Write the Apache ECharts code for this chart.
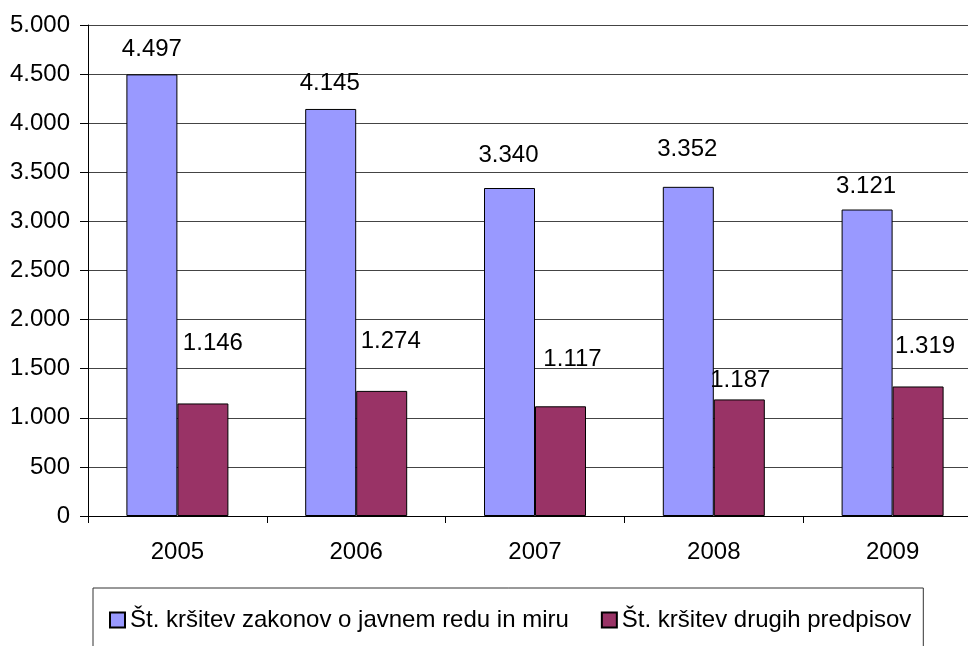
<!DOCTYPE html>
<html>
<head>
<meta charset="utf-8">
<script src="https://cdn.jsdelivr.net/npm/echarts@6/dist/echarts.min.js"></script>
<style>
  html, body { margin: 0; padding: 0; background: #fff; overflow: hidden; }
  /* the original plot runs past the right edge, so the canvas is wider than the window */
  #chart { width: 990px; height: 646px; }
</style>
</head>
<body>
<div id="chart"></div>
<script>
// podatki
const years = ['2005', '2006', '2007', '2008', '2009'];
const javniRed = [4497, 4145, 3340, 3352, 3121];
const drugiPredpisi = [1146, 1274, 1117, 1187, 1319];
const seriesNames = ['Št. kršitev zakonov o javnem redu in miru', 'Št. kršitev drugih predpisov'];

// premiki oznak (ročno postavljene v izvirniku)
const javniRedLabelShift = [[0, -13], [-1, -14], [-1, -21], [-1, -25], [-1, -11]];
const drugiLabelShift = [[10, -48], [9, -38], [12, -35], [1, -7], [7, -28]];

const fmt = v => String(v).replace(/\B(?=(\d{3})+(?!\d))/g, '.');
const FONT = 'Liberation Sans, Arial, sans-serif';

const withShift = (values, shifts) => values.map((v, i) => ({
    value: v,
    label: { offset: shifts[i] }
}));

const myChart = echarts.init(document.getElementById('chart'));
myChart.setOption({
    animation: false,
    backgroundColor: '#fff',
    textStyle: { fontFamily: FONT },
    grid: { left: 88, top: 25, right: 8, bottom: 130, containLabel: false },
    legend: {
        left: 93,
        top: 588,
        padding: [20, 12, 40, 16],
        itemGap: 32,
        itemWidth: 15,
        itemHeight: 15,
        borderColor: '#333',
        borderWidth: 1,
        icon: 'rect',
        textStyle: { fontSize: 24, color: '#000', fontFamily: FONT },
        data: seriesNames
    },
    xAxis: {
        type: 'category',
        data: years,
        axisLine: { lineStyle: { color: '#000', width: 1 } },
        axisTick: { show: true, length: 7, lineStyle: { color: '#000' } },
        axisLabel: { fontSize: 24, color: '#000', margin: 24, fontFamily: FONT }
    },
    yAxis: {
        type: 'value',
        min: 0,
        max: 5000,
        interval: 500,
        axisLine: { show: true, lineStyle: { color: '#000', width: 1 } },
        axisTick: { show: true, length: 8, lineStyle: { color: '#000' } },
        axisLabel: { fontSize: 24, color: '#000', margin: 18, fontFamily: FONT, formatter: fmt },
        splitLine: { show: true, lineStyle: { color: '#444', width: 1 } }
    },
    series: [
        {
            name: seriesNames[0],
            type: 'bar',
            barWidth: 51,
            barGap: '0%',
            data: withShift(javniRed, javniRedLabelShift),
            itemStyle: { color: '#9999FF', borderColor: '#000', borderWidth: 1 },
            label: {
                show: true, position: 'top', distance: 0,
                fontSize: 24, color: '#000', fontFamily: FONT,
                formatter: p => fmt(p.value)
            }
        },
        {
            name: seriesNames[1],
            type: 'bar',
            barWidth: 51,
            barGap: '0%',
            data: withShift(drugiPredpisi, drugiLabelShift),
            itemStyle: { color: '#993366', borderColor: '#000', borderWidth: 1 },
            label: {
                show: true, position: 'top', distance: 0,
                fontSize: 24, color: '#000', fontFamily: FONT,
                formatter: p => fmt(p.value)
            }
        }
    ]
});
</script>
</body>
</html>
